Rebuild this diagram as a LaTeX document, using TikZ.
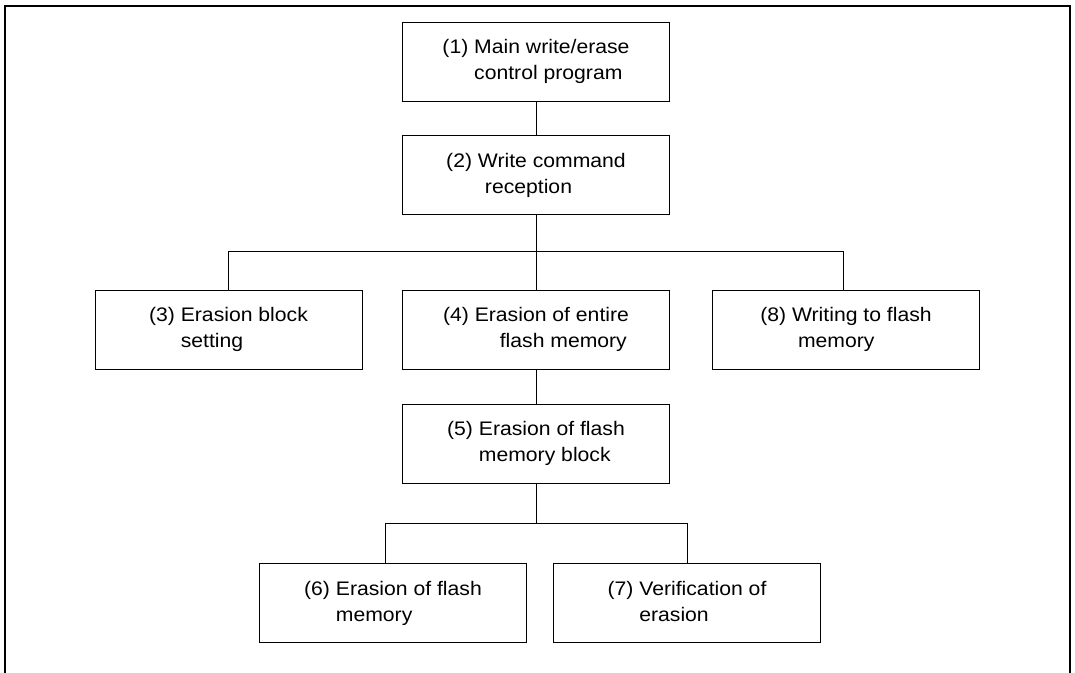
\documentclass[tikz,border=0pt]{standalone}
\usepackage{fontspec}
\setmainfont{Liberation Sans}[FakeStretch=1.08]
\newcommand{\twoline}[4][0pt]{\begin{tabular}{@{}l@{\ }l@{}}#2 & #3\\ & \hspace*{#1}#4\end{tabular}}

\begin{document}
\begin{tikzpicture}[x=1pt, y=-1pt, line width=1pt,
    box/.style = {draw, rectangle, minimum width=267pt, minimum height=79pt, inner sep=0pt,
                  font=\fontsize{19.6}{26}\selectfont},
    frame/.style = {line width=2pt}]
    \useasboundingbox (0,0) rectangle (1075,672);
    % Nodes

    \node[box] (1) at (536, 61.5) {\twoline{(1)}{Main write/erase}{control program}};
    \node[box] (2) at (536, 175) {\twoline[7pt]{(2)}{Write command}{reception}};

    \node[box] (3) at (228.5, 329.5) {\twoline{(3)}{Erasion block}{setting}};
    \node[box] (4) at (536, 329.5) {\twoline[25pt]{(4)}{Erasion of entire}{flash memory}};
    \node[box] (8) at (846, 329.5) {\twoline[6pt]{(8)}{Writing to flash}{memory}};

    \node[box] (5) at (536, 443.5) {\twoline{(5)}{Erasion of flash}{memory block}};

    \node[box] (6) at (393, 603) {\twoline{(6)}{Erasion of flash}{memory}};
    \node[box] (7) at (687, 603) {\twoline{(7)}{Verification of}{erasion}};

    \coordinate (j2) at (536, 251);
    \coordinate (j3) at (228, 251);
    \coordinate (j8) at (843, 251);
    \coordinate (j5) at (536, 523);
    \coordinate (j6) at (385, 523);
    \coordinate (j7) at (687, 523);

    % Edges

    \draw (1) -- (2);
    \draw (2) -- (j2);
    \draw (3.north -| j3) -- (j3) -- (j8) -- (8.north -| j8);
    \draw (j2) -- (4);
    \draw (4) -- (5);
    \draw (5) -- (j5);
    \draw (6.north -| j6) -- (j6) -- (j7) -- (7.north -| j7);

    % Frame
    \draw[frame] (4.7, 690) -- (4.7, 5.7) -- (1070, 5.7) -- (1070, 690);

\end{tikzpicture}
\end{document}
